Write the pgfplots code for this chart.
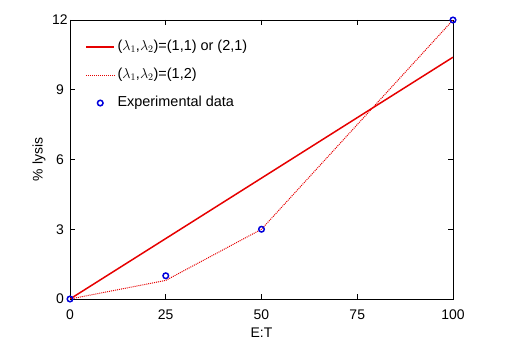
\documentclass[border=0pt]{standalone}
\usepackage{fontspec}
\setmainfont{Liberation Sans}
\usepackage{pgfplots}
\pgfplotsset{compat=1.18}
\definecolor{mred}{RGB}{230,0,0}
\definecolor{mblue}{RGB}{0,0,220}
\pgfplotsset{
    seg legend/.style={legend image code/.code={\draw[##1] (0cm,0cm) -- (28bp,0cm);}},
    dot legend/.style={legend image code/.code={\draw[##1] plot coordinates {(14bp,0cm)};}},
}
\begin{document}
\begin{tikzpicture}
\begin{axis}[
    scale only axis,
    width=383bp, height=279bp,
    xmin=0, xmax=100, ymin=0, ymax=12,
    xtick={0,25,50,75,100}, ytick={0,3,6,9,12},
    tick align=inside, major tick length=5bp,
    xtick pos=both, ytick pos=both,
    axis line style={line width=0.6pt},
    tick style={line width=0.6pt, black},
    /pgf/number format/assume math mode=true,
    tick label style={font=\fontsize{14}{16}\selectfont},
    label style={font=\fontsize{14}{16}\selectfont},
    xticklabel style={anchor=center, yshift=-16bp},
    yticklabel style={anchor=center, xshift=-10bp},
    xlabel={E:T}, ylabel={\% lysis},
    xlabel style={at={(axis description cs:0.5,-0.122)}, anchor=center},
    ylabel style={at={(axis description cs:-0.081,0.5)}, anchor=center},
    legend cell align=left,
    legend style={draw=none, fill=none, at={(rel axis cs:0.04,0.937)}, anchor=north west,
        font=\fontsize{14.5}{16}\selectfont, row sep=9.5bp,
        inner xsep=0bp, inner ysep=0bp,
        nodes={inner sep=2.5bp, text height=10.5bp, text depth=3bp}},
]
\coordinate (o) at (rel axis cs:0,0);
\addplot[mred, line width=1.5pt, seg legend] coordinates {(0,0)(100,10.4)};
\addlegendentry{(\(\lambda_1\),\(\lambda_2\))=(1,1) or (2,1)}
\addplot[mred, line width=1pt, dash pattern=on 1pt off 1pt, seg legend] coordinates {(0,0)(25,0.8)(50,3)(100,12)};
\addlegendentry{(\(\lambda_1\),\(\lambda_2\))=(1,2)}
\addplot[only marks, mark=o, mark size=2.8pt, mblue, mark options={line width=1.5pt}, dot legend]
    coordinates {(0,0)(25,1)(50,3)(100,12)};
\addlegendentry{Experimental data}
\end{axis}
\useasboundingbox (o) ++(-70bp,-53bp) rectangle ++(520bp,352bp);
\end{tikzpicture}
\end{document}
